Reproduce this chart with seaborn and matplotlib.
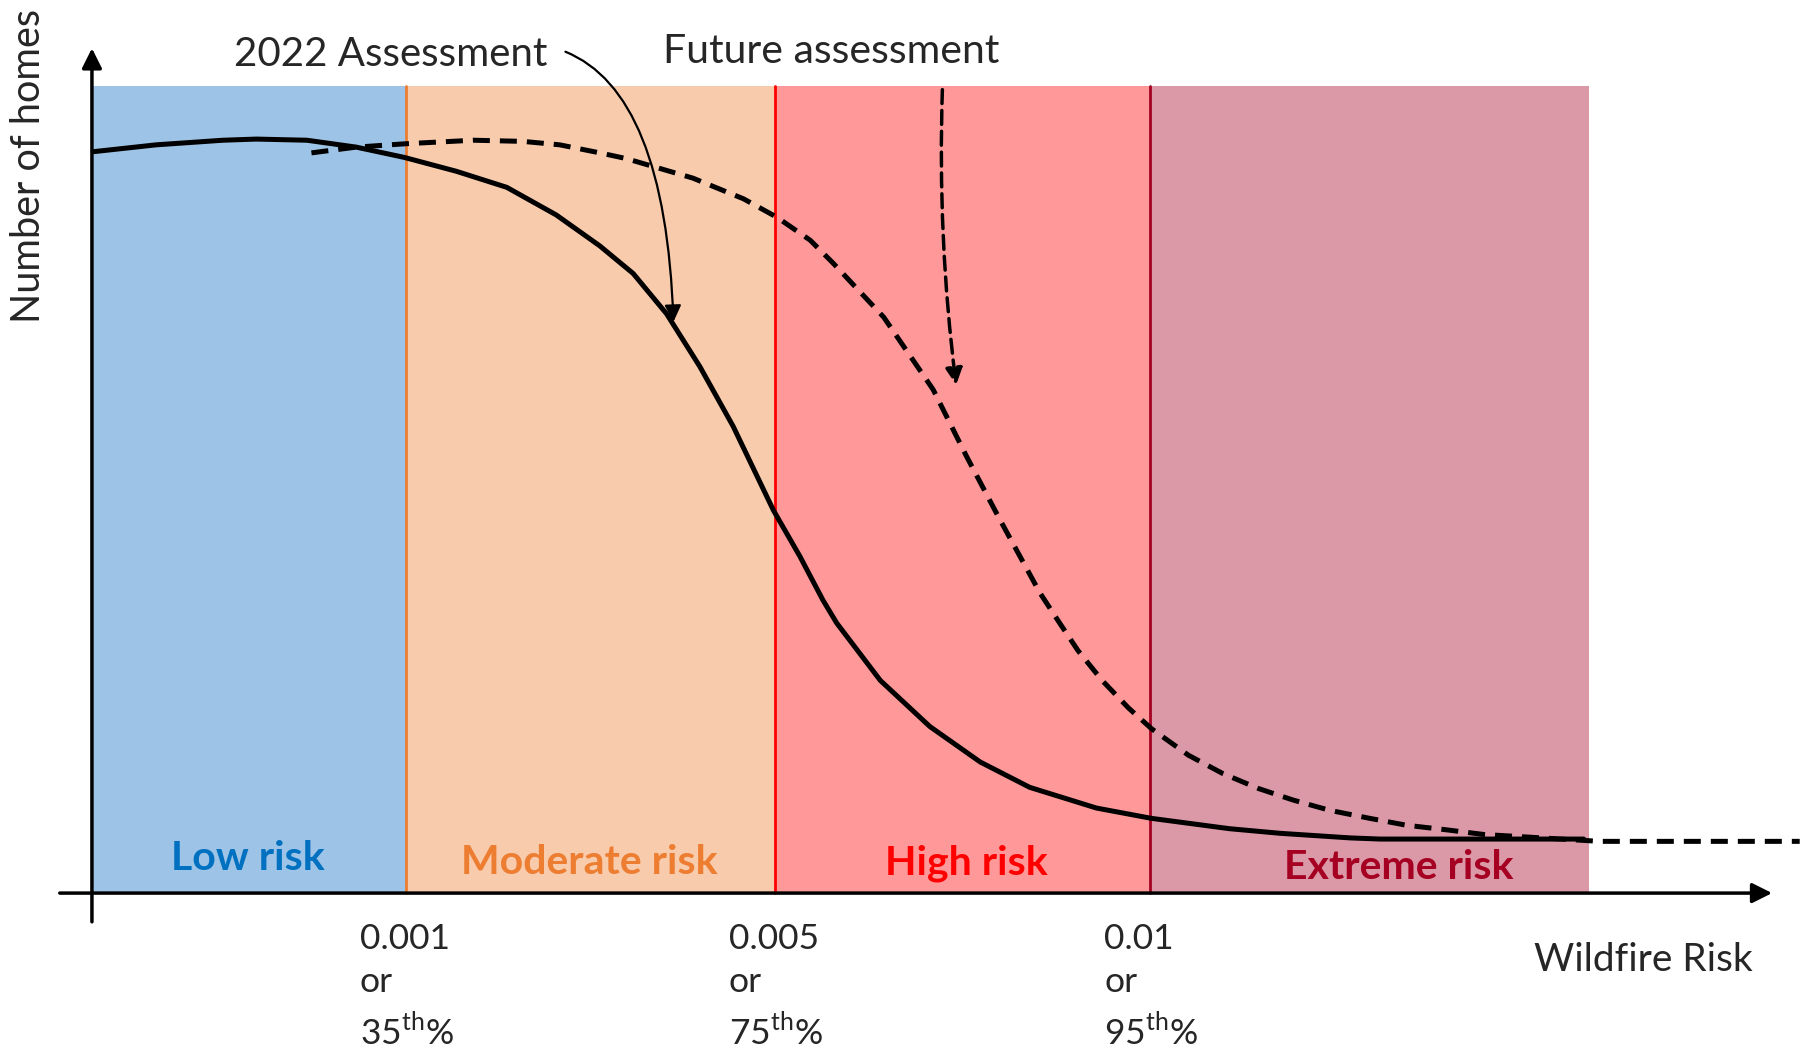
import matplotlib
matplotlib.use('Agg')
import matplotlib.pyplot as plt
import seaborn as sns
import pandas as pd

sns.set_style("white")
plt.rcParams['font.family'] = ['Lato', 'DejaVu Sans']
plt.rcParams['mathtext.fontset'] = 'custom'
plt.rcParams['mathtext.rm'] = 'Lato'

# Curvas (x = riesgo, y = numero de viviendas, unidades arbitrarias)
risk_2022 = [1, 56, 114, 143, 187, 230, 272, 317, 361, 404, 442, 471, 500, 529, 558, 593,
             616, 636, 648, 686, 729, 773, 816, 874, 922, 990, 1034, 1095, 1121, 1208, 1298]
homes_2022 = [645, 651, 655, 656, 655, 649, 640, 628, 614, 590, 563, 539, 504, 458, 406, 333,
              293, 255, 235, 185, 145, 114, 92, 74, 65, 56, 52, 48, 47, 47, 47]

risk_future = [191, 230, 274, 332, 375, 407, 442, 465, 523, 567, 596, 625, 645, 689, 732,
               761, 790, 825, 842, 858, 879, 902, 922, 954, 984, 1015, 1045, 1077, 1112,
               1144, 1179, 1211, 1245, 1312, 1486]
homes_future = [644, 649, 652, 655, 654, 651, 644, 639, 622, 604, 588, 568, 548, 501, 438,
                380, 325, 261, 235, 211, 185, 161, 143, 120, 104, 91, 81, 72, 65,
                59, 55, 51, 49, 45, 45]

# Categorias de riesgo
band_edges = [0, 273, 594, 921, 1303]
band_top = 702
band_names = ['Low risk', 'Moderate risk', 'High risk', 'Extreme risk']
band_colors = ['#9DC3E6', '#F8CBAD', '#FF9999', '#DB99A7']
label_colors = ['#0070C0', '#ED7D31', '#FF0000', '#A50021']
label_x = [136, 433, 761, 1137]
label_y = [30, 27, 26, 22]
boundary_colors = ['#ED7D31', '#FF0000', '#A50021']
tick_labels = ['0.001\nor\n35$^{\\mathrm{th}}$%', '0.005\nor\n75$^{\\mathrm{th}}$%',
               '0.01\nor\n95$^{\\mathrm{th}}$%']

fig = plt.figure(figsize=(18.02, 10.54), dpi=100)
ax = fig.add_axes([0, 0, 1, 1])

# Bandas de color
for i in range(4):
    ax.axvspan(band_edges[i], band_edges[i + 1], ymin=140 / 917, ymax=(140 + band_top) / 917,
               color=band_colors[i], lw=0, zorder=0)
for i in range(3):
    ax.plot([band_edges[i + 1]] * 2, [0, band_top], color=boundary_colors[i], lw=2, zorder=1)

# Curvas
df_2022 = pd.DataFrame({'risk': risk_2022, 'homes': homes_2022})
df_future = pd.DataFrame({'risk': risk_future, 'homes': homes_future})
sns.lineplot(data=df_future, x='risk', y='homes', ax=ax, color='black', lw=3.6,
             linestyle=(0, (3.4, 2.0)), sort=False, zorder=3)
sns.lineplot(data=df_2022, x='risk', y='homes', ax=ax, color='black', lw=3.6,
             sort=False, zorder=4)
ax.set_xlim(-80, 1488)
ax.set_ylim(-140, 777)
ax.axis('off')

# Ejes con flechas
ax.annotate('', xy=(0, 735), xytext=(0, -25),
            arrowprops=dict(arrowstyle='-|>', color='black', lw=2.5,
                            mutation_scale=30, shrinkA=0, shrinkB=0), zorder=5)
ax.annotate('', xy=(1462, 0), xytext=(-28, 0),
            arrowprops=dict(arrowstyle='-|>', color='black', lw=2.5,
                            mutation_scale=30, shrinkA=0, shrinkB=0), zorder=5)

# Etiquetas de regiones
for i in range(4):
    ax.text(label_x[i], label_y[i], band_names[i], color=label_colors[i], fontsize=29.5,
            fontweight='bold', ha='center', va='center', zorder=6)

# Etiquetas del eje x
for i in range(3):
    ax.text(band_edges[i + 1] - 40, -26, tick_labels[i], fontsize=25.5, ha='left', va='top',
            linespacing=1.44)
ax.text(1350, -58, 'Wildfire Risk', fontsize=28, ha='center', va='center')
ax.text(-55, 633, 'Number of homes', fontsize=28.5, ha='center', va='center', rotation=90)

# Anotaciones
ax.text(260, 730, '2022 Assessment', fontsize=29, ha='center', va='center')
ax.annotate('', xy=(506, 497), xytext=(412, 732),
            arrowprops=dict(arrowstyle='-|>', color='black', lw=1.6, mutation_scale=25,
                            shrinkA=0, shrinkB=0,
                            connectionstyle='angle3,angleA=-22,angleB=-88'), zorder=6)
ax.text(643, 732, 'Future assessment', fontsize=29.5, ha='center', va='center')
ax.annotate('', xy=(752, 442), xytext=(740, 699),
            arrowprops=dict(arrowstyle='-|>', color='black', lw=2.5, mutation_scale=25,
                            linestyle=(0, (4, 2)), shrinkA=0, shrinkB=0,
                            connectionstyle='arc3,rad=0.04'), zorder=6)

plt.savefig('out.png', dpi=100)
